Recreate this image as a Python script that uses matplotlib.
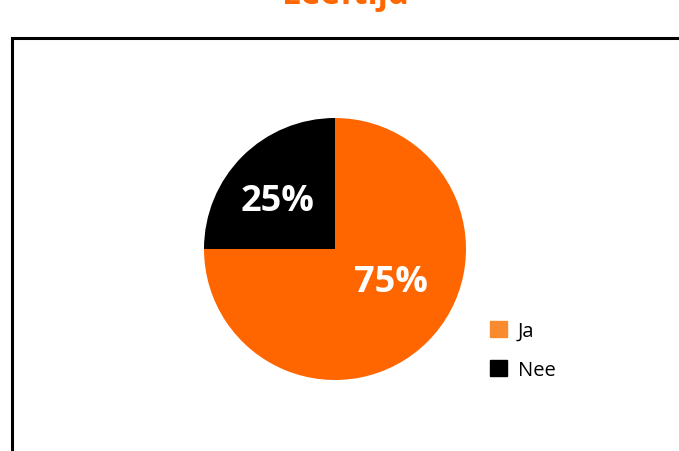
import matplotlib.pyplot as plt
from matplotlib.patches import Rectangle, Patch

# answers and their share
labels = ['Ja', 'Nee']
values = [75, 25]
pie_colors = ['#FF6600', '#000000']
legend_colors = ['#FA8A2E', '#000000']

plt.rcParams['font.family'] = ['Open Sans', 'DejaVu Sans']

fig = plt.figure(figsize=(6.79, 4.52), dpi=100)
W, H = 679, 452

# title, mostly cut off at the top like in the source
fig.text(345 / W, 1 - 4 / H, 'Leeftijd', color='#FF6600', fontsize=24,
         fontweight='bold', ha='center', va='baseline')

# frame of the chart area
fig.patches.append(Rectangle((12 / W, -0.1), 1.0, 1 - 39 / H + 0.1,
                             transform=fig.transFigure, fill=False,
                             edgecolor='black', linewidth=2.2))

# pie axes: centre (335, 250), radius 131 px
r = 131
ax = fig.add_axes([(335 - r) / W, 1 - (250 + r) / H, 2 * r / W, 2 * r / H])
wedges, texts, autotexts = ax.pie(values, colors=pie_colors, startangle=90,
                                  counterclock=False, radius=1,
                                  autopct='%d%%',
                                  textprops=dict(color='white', fontsize=26,
                                                 fontweight='bold'))
ax.set_xlim(-1, 1)
ax.set_ylim(-1, 1)
autotexts[0].set_position((0.43, -0.255))
autotexts[1].set_position((-0.44, 0.37))
for t in autotexts:
    t.set_ha('center')
    t.set_va('center')

handles = [Patch(color=c) for c in legend_colors]
fig.legend(handles, labels, loc='upper left',
           bbox_to_anchor=(472 / W, 1 - 304 / H), frameon=False,
           fontsize=14.5, handlelength=0.82, handleheight=0.82,
           handletextpad=0.55, labelspacing=0.95)

fig.savefig('out.png', dpi=100)
